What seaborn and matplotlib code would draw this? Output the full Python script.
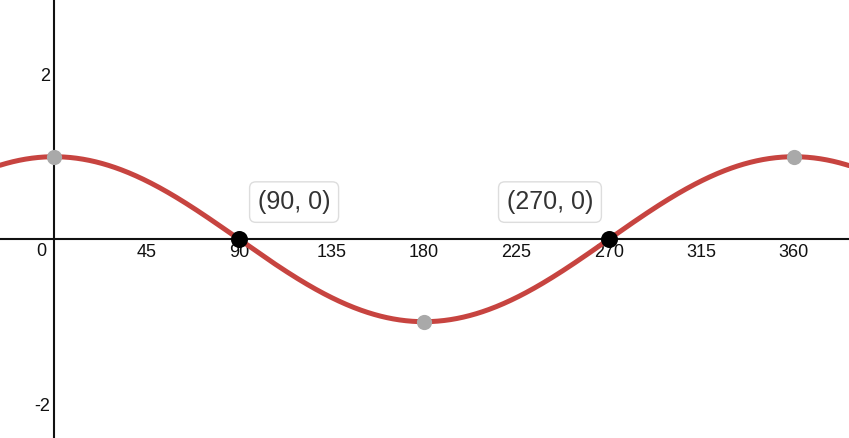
import numpy as np
import pandas as pd
import seaborn as sns
import matplotlib.pyplot as plt

# graph of y = cos(x), x in degrees
amplitude = 1.0
period = 360.0
x_ticks = [45, 90, 135, 180, 225, 270, 315, 360]
y_ticks = [-2, 2]

# extrema (grey) and zeros (black, labelled)
extrema_x = [0, 180, 360]
extrema_y = [1, -1, 1]
zeros_x = [90, 270]
zeros_y = [0, 0]
zero_labels = ["(90, 0)", "(270, 0)"]
label_pos = [(116.8, 0.45), (241.3, 0.45)]

xlim = (-26.3, 386.8)
ylim = (-2.41, 2.90)

sns.set_style("white")
plt.rcParams['font.family'] = ['Liberation Sans', 'DejaVu Sans']

curve_x = np.linspace(xlim[0], xlim[1], 800)
curve = pd.DataFrame({"x": curve_x,
                      "y": amplitude * np.cos(np.deg2rad(curve_x * 360.0 / period))})

fig = plt.figure(figsize=(8.49, 4.38), dpi=100)
ax = fig.add_axes([0, 0, 1, 1])

sns.lineplot(data=curve, x="x", y="y", ax=ax, color="#c74440", linewidth=3.6,
             zorder=3, sort=False)
sns.scatterplot(x=extrema_x, y=extrema_y, ax=ax, color="#a9a9a9", s=120,
                linewidth=0, zorder=4)
sns.scatterplot(x=zeros_x, y=zeros_y, ax=ax, color="black", s=150,
                linewidth=0, zorder=5)

for txt, (tx, ty) in zip(zero_labels, label_pos):
    ax.text(tx, ty, txt, ha="center", va="center", fontsize=18, color="#333333",
            zorder=6,
            bbox=dict(boxstyle="round,pad=0.33,rounding_size=0.25", fc="white",
                      ec="#dddddd", lw=1))

ax.set_xlim(*xlim)
ax.set_ylim(*ylim)
ax.spines["left"].set_position(("data", 0))
ax.spines["bottom"].set_position(("data", 0))
ax.spines["top"].set_visible(False)
ax.spines["right"].set_visible(False)
for s in ("left", "bottom"):
    ax.spines[s].set_linewidth(1.5)
    ax.spines[s].set_color("#111111")
    ax.spines[s].set_zorder(2)

ax.set_xticks(x_ticks)
ax.set_xticklabels([str(t) for t in x_ticks])
ax.set_yticks(y_ticks)
ax.set_yticklabels([str(t) for t in y_ticks])
ax.tick_params(axis="both", length=0, labelsize=13, colors="#111111")
ax.tick_params(axis="x", pad=3.5)
ax.tick_params(axis="y", pad=3)
for lab in ax.get_xticklabels() + ax.get_yticklabels():
    lab.set_bbox(dict(fc="white", ec="none", pad=0.5))
ax.text(-3.5, -0.05, "0", ha="right", va="top", fontsize=13, color="#111111")
ax.set_xlabel("")
ax.set_ylabel("")

fig.savefig("out.png", dpi=100)
